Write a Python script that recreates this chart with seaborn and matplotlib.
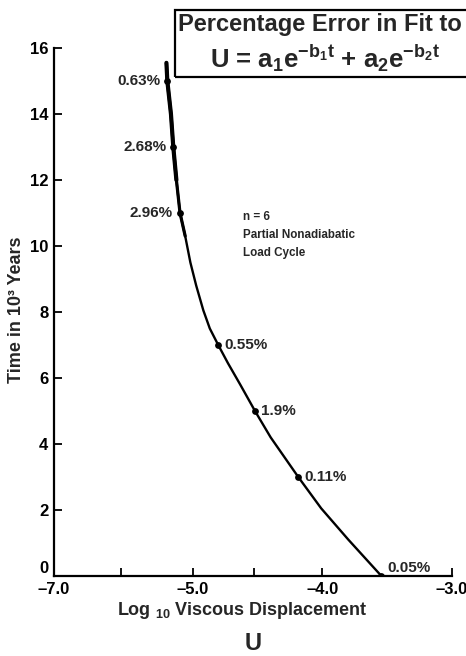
import matplotlib
matplotlib.use("Agg")
import matplotlib.pyplot as plt
import matplotlib.patches as mpatches
import seaborn as sns
import pandas as pd

# ---- data ----
curve_t = [15.55, 15.0, 14.0, 13.0, 12.0, 11.0, 10.3, 9.5, 8.8, 8.05, 7.5, 7.0,
           6.45, 5.8, 5.0, 4.2, 3.0, 2.05, 1.1, 0.0]
curve_x = [-5.205, -5.198, -5.17, -5.152, -5.128, -5.10, -5.060, -5.020, -4.975,
           -4.920, -4.870, -4.805, -4.730, -4.635, -4.521, -4.400, -4.187, -4.010,
           -3.800, -3.545]
pts_t = [15, 13, 11, 7, 5, 3, 0]
pts_x = [-5.198, -5.152, -5.10, -4.805, -4.521, -4.187, -3.545]
pct_labels = ["0.63%", "2.68%", "2.96%", "0.55%", "1.9%", "0.11%", "0.05%"]
label_side = ["left", "left", "left", "right", "right", "right", "right"]

x_tick_pos = [-6.073, -5.0, -4.0, -3.0]
x_tick_labels = ["\u20137.0", "\u20135.0", "\u20134.0", "\u20133.0"]
x_minor_pos = [-5.556, -4.529]
y_ticks = [0, 2, 4, 6, 8, 10, 12, 14, 16]
y_tick_labels = [str(v) for v in y_ticks]

sns.set_theme(style="ticks")
plt.rcParams["font.family"] = ["Liberation Sans", "DejaVu Sans"]
plt.rcParams["font.weight"] = "bold"
plt.rcParams["mathtext.fontset"] = "custom"
plt.rcParams["mathtext.rm"] = "Liberation Sans:bold"
plt.rcParams["mathtext.it"] = "Liberation Sans:bold"
plt.rcParams["mathtext.bf"] = "Liberation Sans:bold"
plt.rcParams["mathtext.default"] = "rm"

W, H = 466, 656
fig = plt.figure(figsize=(W / 100, H / 100), dpi=100)
ax = fig.add_axes([54 / W, 1 - 576 / H, (452 - 54) / W, (576 - 48) / H])

curve = pd.DataFrame({"x": curve_x, "t": curve_t})
pts = pd.DataFrame({"x": pts_x, "t": pts_t})

line_kw = dict(x="x", y="t", sort=False, estimator=None, color="black",
               ax=ax, solid_joinstyle="round", solid_capstyle="round")
sns.lineplot(data=curve, lw=1.7, **line_kw)
sns.lineplot(data=curve.iloc[:7], lw=2.3, **line_kw)
sns.lineplot(data=curve.iloc[:5], lw=3.0, **line_kw)
sns.scatterplot(data=pts, x="x", y="t", color="black", s=24, edgecolor="black",
                linewidth=0, ax=ax, zorder=5)

for xv, tv, lab, side in zip(pts_x, pts_t, pct_labels, label_side):
    if side == "left":
        off, ha = (-7, 0), "right"
    else:
        off, ha = (6, 0), "left"
    if tv == 0:
        off = (6, 8)
    ax.annotate(lab, (xv, tv), xytext=off, textcoords="offset pixels",
                ha=ha, va="center", fontsize=11, fontweight="bold")

ax.text(-4.614, 11.05, "n = 6\nPartial Nonadiabatic\nLoad Cycle",
        ha="left", va="top", fontsize=8.4, fontweight="bold", linespacing=1.65)

ax.set_xlim(-6.073, -3.0)
ax.set_ylim(0, 16)
ax.set_xticks(x_tick_pos)
ax.set_xticklabels(x_tick_labels)
ax.set_xticks(x_minor_pos, minor=True)
ax.set_yticks(y_ticks)
ax.set_yticklabels(y_tick_labels)

for sp in ["top", "right"]:
    ax.spines[sp].set_visible(False)
for sp in ["left", "bottom"]:
    ax.spines[sp].set_linewidth(1.6)
    ax.spines[sp].set_color("black")

ax.tick_params(axis="x", which="both", direction="in", length=5.5, width=1.3,
               pad=4, labelsize=12, colors="black")
ax.tick_params(axis="y", which="both", direction="in", length=5.5, width=1.3,
               pad=4, labelsize=12, colors="black")
for lab in ax.get_xticklabels() + ax.get_yticklabels():
    lab.set_fontweight("bold")
ax.get_yticklabels()[0].set_verticalalignment("bottom")

ax.set_xlabel(r"Log $_{10}$ Viscous Displacement", fontsize=13, fontweight="bold")
ax.xaxis.set_label_coords((242 - 54) / 398, -0.045)
ax.set_ylabel("Time in 10\u00b3 Years", fontsize=13, fontweight="bold")
ax.yaxis.set_label_coords(-0.072, 0.504)

ax.set_facecolor("white")
fig.patch.set_facecolor("white")

fig.text(253 / W, 1 - 643 / H, "U", ha="center", va="center",
         fontsize=17, fontweight="bold")

box = mpatches.Rectangle((175 / W, 1 - 77 / H), 0.7, 67 / H,
                         transform=fig.transFigure, fill=False,
                         lw=1.6, edgecolor="black")
fig.patches.append(box)
fig.text(320 / W, 1 - 24 / H, "Percentage Error in Fit to", ha="center",
         va="center", fontsize=17, fontweight="bold")
fig.text(325 / W, 1 - 68 / H, r"U = a$_1$e$^{-b_1t}$ + a$_2$e$^{-b_2t}$",
         ha="center", va="baseline", fontsize=18.5, fontweight="bold")

fig.savefig("out.png", dpi=100)
